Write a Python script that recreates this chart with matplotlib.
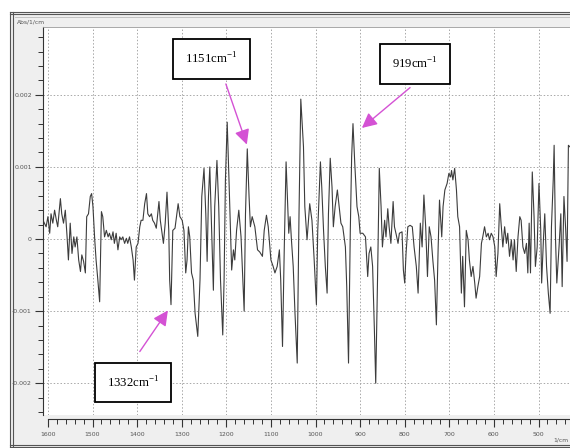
import matplotlib
matplotlib.use("Agg")
import matplotlib.pyplot as plt
from matplotlib.patches import Rectangle
from matplotlib.lines import Line2D
import numpy as np

# ---- data (wavenumber in 1/cm, absorbance in 1e-3 Abs)
wavenumber = [
    1611, 1604, 1600, 1596, 1593, 1589, 1585, 1581, 1578, 1572, 1569, 1565, 1561, 1557,
    1554, 1550, 1546, 1542, 1539, 1535, 1531, 1527, 1524, 1520, 1516, 1513, 1509, 1505,
    1502, 1499, 1495, 1492, 1488, 1484, 1480, 1477, 1473, 1469, 1465, 1462, 1458, 1454,
    1451, 1447, 1443, 1439, 1436, 1432, 1428, 1424, 1421, 1417, 1413, 1409, 1406, 1402,
    1398, 1394, 1391, 1387, 1383, 1379, 1376, 1372, 1368, 1365, 1361, 1357, 1353, 1351,
    1348, 1344, 1341, 1337, 1333, 1329, 1327, 1324, 1320, 1315,
    1308, 1304, 1299, 1295, 1291, 1288, 1285, 1282, 1278, 1274, 1270, 1264, 1259, 1255,
    1250, 1246, 1243, 1240, 1237, 1233, 1229, 1226, 1221, 1217, 1213, 1208, 1205, 1202,
    1198, 1194, 1188, 1184, 1181, 1177, 1172, 1167, 1163, 1160, 1157, 1153, 1149, 1146,
    1142, 1136, 1130, 1125, 1119, 1115, 1110, 1106, 1100, 1095, 1091, 1086, 1081, 1078,
    1074, 1070, 1066, 1063, 1060, 1057, 1054, 1050, 1046, 1041, 1037, 1033, 1027, 1024,
    1019,
    1013, 1008, 1003, 998, 995, 989, 986, 982, 978, 974, 971, 967, 963, 960, 956, 951,
    947, 943, 939, 933, 930, 926, 922, 919, 916, 912, 907, 903, 900, 894, 888, 883, 880,
    876, 872, 868, 865, 861, 857, 853, 850, 845, 842, 838, 835, 831, 826, 823, 819, 815,
    812, 806, 803, 800, 797, 793, 788, 783, 779, 774, 770, 765, 761, 757, 753, 749, 745,
    741, 737, 733, 729, 725,
    722, 717, 714, 710, 705, 701, 697, 695, 692, 688, 684, 681, 677, 673, 670, 666, 662,
    658, 655, 651, 647, 643, 640, 636, 632, 628, 625, 621, 617, 613, 610, 606, 602, 598,
    595, 591, 587, 584, 580, 576, 572, 569, 565, 561, 557, 554, 550, 546, 542, 539, 535,
    531, 527, 524, 521, 518, 514, 510, 507, 503, 499, 495, 493, 489, 486, 482, 478, 474,
    471, 467, 465, 462, 459, 454, 450, 447, 443, 439, 436, 433, 430,
]
absorbance_milli = [
    0.26, 0.17, 0.31, 0.08, 0.35, 0.22, 0.40, 0.26, 0.17, 0.56, 0.35, 0.22, 0.40, 0.03,
    -0.29, 0.22, -0.20, 0.03, -0.11, 0.03, -0.29, -0.45, -0.22, -0.31, -0.47, 0.31, 0.35, 0.59,
    0.63, 0.45, -0.01, -0.29, -0.57, -0.87, 0.38, 0.31, 0.03, 0.12, 0.03, 0.08, -0.01, 0.10,
    -0.06, 0.08, -0.15, 0.03, -0.01, 0.03, -0.06, 0.01, -0.06, 0.03, -0.11, -0.29, -0.57, -0.11,
    -0.06, 0.17, 0.26, 0.26, 0.49, 0.63, 0.35, 0.31, 0.35, 0.26, 0.22, 0.15, 0.40, 0.52,
    0.26, 0.08, -0.06, 0.22, 0.65, 0.12, -0.57, -0.91, 0.12, 0.15,
    0.49, 0.31, 0.26, 0.12, -0.47, -0.29, 0.17, 0.03, -0.47, -0.57, -1.03, -1.35, -0.57, 0.59,
    0.98, 0.35, -0.31, 0.59, 1.00, 0.12, -0.71, 0.45, 1.09, 0.45, -0.57, -1.33, -0.57, 0.82,
    1.62, 0.82, -0.43, -0.15, -0.29, 0.12, 0.40, 0.03, -0.57, -1.00, 0.35, 1.25, 0.59, 0.17,
    0.31, 0.17, -0.15, -0.18, -0.24, 0.12, 0.33, 0.17, -0.29, -0.38, -0.47, -0.38, -0.15, -0.57,
    -1.49, -0.11, 1.07, 0.59, 0.08, 0.31, -0.01, -0.38, -1.03, -1.72, 0.35, 1.94, 1.28, 0.45,
    -0.01,
    0.49, 0.26, -0.29, -0.91, 0.12, 1.07, 0.72, 0.12, -0.38, -0.75, 0.35, 1.12, 0.72, 0.17, 0.45, 0.68,
    0.45, 0.22, 0.17, -0.11, -0.66, -1.72, 0.12, 1.14, 1.60, 1.05, 0.45, 0.31, 0.08, 0.08, 0.03, -0.52, -0.20,
    -0.11, -0.38, -1.26, -2.00, -0.57, 0.98, 0.45, -0.11, 0.26, 0.03, 0.42, 0.17, -0.06, 0.52, 0.17, 0.06, -0.06,
    0.08, 0.10, -0.43, -0.61, -0.20, 0.17, 0.19, 0.17, -0.11, -0.38, -0.75, 0.22, -0.11, 0.61, 0.17, -0.52, 0.17,
    0.03, -0.29, -0.57, -1.19, -0.11,
    0.54, 0.03, 0.45, 0.68, 0.77, 0.91, 0.86, 0.95, 0.82, 0.98, 0.68, 0.31, 0.17, -0.75, -0.24, -0.94, 0.12,
    -0.01, -0.29, -0.52, -0.38, -0.61, -0.82, -0.66, -0.52, -0.06, 0.03, 0.17, 0.03, 0.08, -0.01, 0.08, 0.03, -0.11,
    -0.52, -0.20, 0.49, 0.22, -0.11, 0.17, -0.06, 0.08, -0.24, -0.01, -0.29, -0.01, -0.45, 0.03, 0.31, 0.26, -0.11,
    -0.20, -0.06, -0.47, 0.22, -0.47, 0.93, 0.31, -0.38, -0.11, 0.77, 0.12, -0.61, -0.01, 0.35, -0.38, -0.75, -1.03,
    0.17, 0.82, 1.30, 0.03, -0.61, -0.11, 0.35, -0.66, 0.59, 0.12, -0.31, 1.30, 1.28,
]

y_ticks = [0.002, 0.001, 0.0, -0.001, -0.002]
y_tick_labels = ["0.002", "0.001", "0", "-0.001", "-0.002"]
x_ticks = [1600, 1500, 1400, 1300, 1200, 1100, 1000, 900, 800, 700, 600, 500]

# peak labels: (text, arrow tail, arrow tip, box centre) in data units
peak_labels = ["1151cm$^{\\mathregular{-1}}$", "919cm$^{\\mathregular{-1}}$", "1332cm$^{\\mathregular{-1}}$"]
arrow_tail = [(1201, 2.15e-3), (788, 2.10e-3), (1394, -1.56e-3)]
arrow_tip = [(1154, 1.31e-3), (896, 1.54e-3), (1331, -0.99e-3)]
box_centre = [(1233, 2.50e-3), (777, 2.43e-3), (1409, -1.99e-3)]

W, H = 570, 448


def fx(px):
    return px / W


def fy(py):
    return 1 - py / H


fig = plt.figure(figsize=(W / 100, H / 100), dpi=100)
fig.patch.set_facecolor("white")

# ---- window frame round the plot ------------------------------------------
fig.add_artist(Rectangle((fx(10), fy(447)), fx(575) - fx(10), fy(12) - fy(447),
                         transform=fig.transFigure, facecolor="#efefef", edgecolor="none", zorder=0))
for x in (10, 12.5):
    fig.add_artist(Line2D([fx(x), fx(x)], [fy(12), fy(447)], transform=fig.transFigure,
                          color="#555555", lw=0.8))
for y in (12, 14.5, 444.5, 447):
    fig.add_artist(Line2D([fx(10), fx(575)], [fy(y), fy(y)], transform=fig.transFigure,
                          color="#555555", lw=0.8))
fig.add_artist(Line2D([fx(15), fx(575)], [fy(17.5), fy(17.5)], transform=fig.transFigure,
                      color="#bbbbbb", lw=0.6))

# ---- axes ------------------------------------------------------------------
ax = fig.add_axes([fx(43), fy(415), fx(580) - fx(43), fy(27) - fy(415)])
ax.set_facecolor("white")

absorbance = np.array(absorbance_milli) * 1e-3
ax.plot(wavenumber, absorbance, color="#3c3c3c", lw=0.8)

ax.set_xlim(1611, 407)
ax.set_ylim(-0.00244, 0.00294)

ax.set_yticks(y_ticks)
ax.set_yticklabels(y_tick_labels)
ax.set_yticks(np.arange(-0.0024, 0.0029, 0.0002), minor=True)
ax.set_xticks(x_ticks)
ax.set_xticklabels([str(v) for v in x_ticks])
ax.set_xticks(np.arange(420, 1601, 20), minor=True)

ax.grid(True, which="major", linestyle=(0, (1.5, 2)), color="#a8a8a8", lw=0.7)

ax.spines["right"].set_visible(False)
ax.spines["top"].set_color("#9a9a9a")
ax.spines["top"].set_linewidth(0.6)
ax.spines["left"].set_color("#333333")
ax.spines["bottom"].set_color("#333333")
ax.spines["bottom"].set_position(("outward", 3))
ax.spines["bottom"].set_bounds(1600, 407)

ax.tick_params(axis="both", which="major", direction="out", length=6, width=0.8,
               color="#333333", labelsize=4.5, labelcolor="#555555", pad=2)
ax.tick_params(axis="both", which="minor", direction="out", length=3.5, width=0.7,
               color="#333333")
ax.tick_params(axis="x", which="major", pad=3)

# ---- peak annotations ------------------------------------------------------
for label, tail, tip, centre in zip(peak_labels, arrow_tail, arrow_tip, box_centre):
    ax.annotate("", xy=tip, xytext=tail,
                arrowprops=dict(arrowstyle="-|>,head_length=0.9,head_width=0.45",
                                color="#d452d4", lw=1.0, shrinkA=0, shrinkB=0,
                                mutation_scale=10))
    ax.text(centre[0], centre[1], label, ha="center", va="center",
            family="Liberation Serif", fontsize=9.2, color="black",
            bbox=dict(boxstyle="square,pad=0.95", facecolor="white",
                      edgecolor="black", lw=1.3))

# ---- small captions of the original window ---------------------------------
fig.text(fx(17), fy(22.5), "Abs/1/cm", fontsize=4.3, color="#555555", va="center", ha="left")
fig.text(fx(553), fy(440), "1/cm", fontsize=4.3, color="#555555", va="center", ha="left")

fig.savefig("out.png", dpi=100)
